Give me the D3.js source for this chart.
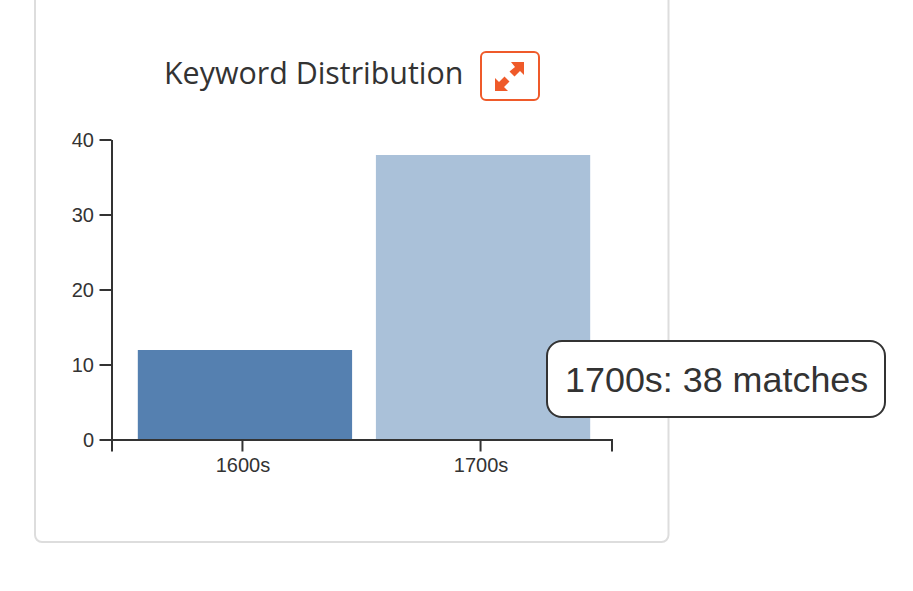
<!DOCTYPE html>
<html><head><meta charset="utf-8">
<script src="https://cdn.jsdelivr.net/npm/d3@7"></script>
<style>html,body{margin:0;padding:0;background:#fff;overflow:hidden}svg{display:block}</style>
</head><body><svg id="c" width="913" height="591"></svg>
<script>
const categories = ["1600s","1700s"];
const matches = [12,38];
const barColors = ["#5580b0","#aac1d9"];
const yTicks = [0,10,20,30,40];
const titleText = "Keyword Distribution";
const tooltipText = "1700s: 38 matches";

const svg = d3.select("#c");
const ink = "#333";
svg.append("rect").attr("x",35).attr("y",-20).attr("width",633.5).attr("height",562)
  .attr("rx",7).attr("fill","#fff").attr("stroke","#ddd").attr("stroke-width",2);
svg.append("text").attr("x",164).attr("y",84).attr("font-family","'Open Sans'").attr("font-size",30.4)
  .attr("fill",ink).text(titleText);
svg.append("rect").attr("x",481).attr("y",52).attr("width",58).attr("height",48).attr("rx",5)
  .attr("fill","#fff").attr("stroke","#ef5a2a").attr("stroke-width",2);
svg.append("path").attr("fill","#ef5a2a")
  .attr("d","M524 62 V75 L520 71 L514.5 76.5 L509.5 71.5 L515 67 L511 62 Z M495 91 V78 L499 82 L504.5 76.5 L509.5 81.5 L504 87 L508 91 Z");

const x = d3.scaleBand().domain(categories).range([112,612]).padding(0.1);
const y = d3.scaleLinear().domain([0,40]).range([440,140]);
svg.append("g").attr("transform","translate(2,0)").selectAll("rect").data(categories).join("rect")
  .attr("x",d=>x(d)).attr("width",x.bandwidth())
  .attr("y",(d,i)=>y(matches[i])).attr("height",(d,i)=>y(0)-y(matches[i]))
  .attr("fill",(d,i)=>barColors[i]);
const ya = svg.append("g").attr("transform","translate(111.5,-0.5)")
  .call(d3.axisLeft(y).tickValues(yTicks).tickSize(12).tickSizeOuter(0).tickPadding(6));
const xa = svg.append("g").attr("transform","translate(-0.5,439.5)")
  .call(d3.axisBottom(x).tickSize(12).tickSizeOuter(12).tickPadding(6));
[ya,xa].forEach(a=>{
  a.attr("font-family","'Liberation Sans'").attr("font-size",20);
  a.selectAll("path,line").attr("stroke",ink).attr("stroke-width",2);
  a.selectAll("text").attr("fill",ink).attr("transform","translate(0.5,0.8)");
});
svg.append("rect").attr("x",547).attr("y",341).attr("width",338).attr("height",76).attr("rx",15)
  .attr("fill","#fff").attr("stroke",ink).attr("stroke-width",2);
svg.append("text").attr("x",565).attr("y",392).attr("font-family","'Liberation Sans'").attr("font-size",35.9)
  .attr("fill",ink).text(tooltipText);
</script></body></html>
